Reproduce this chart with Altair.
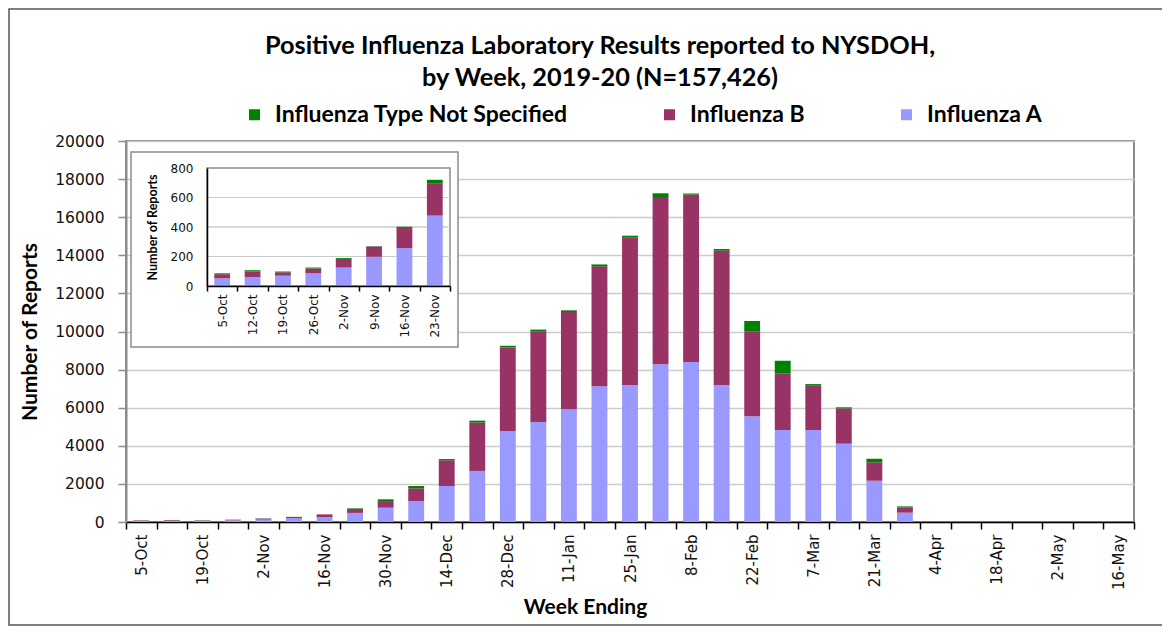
import altair as alt
import pandas as pd

weeks = ["5-Oct", "12-Oct", "19-Oct", "26-Oct", "2-Nov", "9-Nov", "16-Nov", "23-Nov",
         "30-Nov", "7-Dec", "14-Dec", "21-Dec", "28-Dec", "4-Jan", "11-Jan", "18-Jan",
         "25-Jan", "1-Feb", "8-Feb", "15-Feb", "22-Feb", "29-Feb", "7-Mar", "14-Mar",
         "21-Mar", "28-Mar", "4-Apr", "11-Apr", "18-Apr", "25-Apr", "2-May", "9-May", "16-May"]
flu_a = [52, 61, 70, 86, 125, 198, 257, 477, 750, 1100, 1890, 2680, 4780, 5250, 5920, 7120,
         7190, 8280, 8400, 7190, 5550, 4830, 4830, 4110, 2170, 490, 0, 0, 0, 0, 0, 0, 0]
flu_b = [28, 37, 23, 33, 58, 70, 143, 216, 350, 670, 1350, 2540, 4380, 4760, 5100, 6300,
         7740, 8730, 8790, 7050, 4460, 2975, 2350, 1850, 960, 280, 0, 0, 0, 0, 0, 0, 0]
flu_ns = [6, 9, 5, 6, 6, 2, 2, 27, 90, 120, 65, 100, 90, 90, 90, 100,
          100, 245, 60, 90, 540, 665, 60, 60, 190, 50, 0, 0, 0, 0, 0, 0, 0]
inset_weeks = weeks[:8]
shown_labels = weeks[::2]
main_y_ticks = list(range(0, 20001, 2000))
inset_y_ticks = [0, 200, 400, 600, 800]
inset_grid_values = [200, 400, 600]

series_names = ["Influenza Type Not Specified", "Influenza B", "Influenza A"]
series_colors = ["#008000", "#993366", "#9999FF"]
stack_rank = {"Influenza A": 0, "Influenza B": 1, "Influenza Type Not Specified": 2}

rows = []
for i, w in enumerate(weeks):
    for name, vals in (("Influenza A", flu_a), ("Influenza B", flu_b),
                       ("Influenza Type Not Specified", flu_ns)):
        rows.append({"week": w, "idx": i, "series": name, "count": vals[i],
                     "rank": stack_rank[name]})
df = pd.DataFrame(rows)
inset_df = df[df["idx"] < 8]
grid_df = pd.DataFrame([{"week": w, "val": v} for v in inset_grid_values for w in inset_weeks])
one = pd.DataFrame({"k": [0]})

# ---- layout (pixels, relative to the main plot area's top-left corner) ----
W, H = 1008, 381
PAD = {"left": 118, "top": 133, "right": 28, "bottom": 104}
FRAME = (-117, 1080, -132, 484)       # outer chart frame (right edge runs off the page)
BOX = (5, 332, 11, 206)               # inset box
INSET = (81, 324, 27, 145)            # inset plot area

LABEL_FONT = "DejaVu Sans"
TITLE_FONT = "Lato"
GRAY = "#8c8c8c"

label_expr = ("indexof([" + ",".join("'" + w + "'" for w in shown_labels) +
              "], datum.value) >= 0 ? datum.label : ''")

frame = alt.Chart(one).mark_rect(fillOpacity=0, stroke="#555555", strokeWidth=1.5).encode(
    x=alt.value(FRAME[0]), x2=alt.value(FRAME[1]), y=alt.value(FRAME[2]), y2=alt.value(FRAME[3]))

main = alt.Chart(df).mark_bar(width=alt.RelativeBandSize(0.52)).encode(
    x=alt.X("week:N", sort=weeks,
            scale=alt.Scale(paddingInner=0, paddingOuter=0),
            axis=alt.Axis(title="Week Ending", labelExpr=label_expr, labelAngle=270,
                          labelOverlap=False, tickBand="extent", labelFont=LABEL_FONT,
                          labelFontSize=15, labelColor="#111", labelPadding=5,
                          tickColor="black", tickSize=7, tickWidth=1.5,
                          domainColor="black", domainWidth=1.5, grid=False,
                          titleFont=TITLE_FONT, titleFontSize=21, titleFontWeight="bold",
                          titleColor="black", titlePadding=7, titleX=459)),
    y=alt.Y("count:Q", stack="zero", scale=alt.Scale(domain=[0, 20000]),
            axis=alt.Axis(title="Number of Reports", values=main_y_ticks, format="d",
                          labelFont=LABEL_FONT, labelFontSize=15.5, labelColor="#111",
                          labelPadding=14, tickColor=GRAY, tickSize=8, tickWidth=1.5,
                          domainColor=GRAY, domainWidth=2, gridColor="#cccccc",
                          gridWidth=1.5, titleFont=TITLE_FONT, titleFontSize=21,
                          titleFontWeight="bold", titleColor="black", titlePadding=14)),
    color=alt.Color("series:N", title=None,
                    scale=alt.Scale(domain=series_names, range=series_colors),
                    legend=alt.Legend(orient="none", legendX=117, legendY=-38,
                                      direction="horizontal", columns=3,
                                      columnPadding=90, symbolType="square",
                                      symbolSize=121, symbolStrokeWidth=0, labelOffset=9,
                                      labelFont=TITLE_FONT, labelFontSize=23,
                                      labelFontWeight="bold", labelColor="black",
                                      labelLimit=500)),
    order=alt.Order("rank:Q"),
)

box = alt.Chart(one).mark_rect(fill="white", stroke=GRAY, strokeWidth=1.5).encode(
    x=alt.value(BOX[0]), x2=alt.value(BOX[1]), y=alt.value(BOX[2]), y2=alt.value(BOX[3]))

inset_frame = alt.Chart(one).mark_rect(fillOpacity=0, stroke=GRAY, strokeWidth=1.5).encode(
    x=alt.value(INSET[0]), x2=alt.value(INSET[1]), y=alt.value(INSET[2]), y2=alt.value(INSET[3]))

inset_x_scale = alt.Scale(paddingInner=0, paddingOuter=0, range=[INSET[0], INSET[1]])
inset_y_scale = alt.Scale(domain=[0, 800], range=[INSET[3], INSET[2]])
inset_x_axis = alt.Axis(title=None, orient="bottom", offset=INSET[3] - H, zindex=1,
                        labelAngle=270, labelOverlap=False, tickBand="extent",
                        labelFont=LABEL_FONT, labelFontSize=12, labelColor="#111",
                        labelPadding=3, tickColor="black", tickSize=5, tickWidth=1.5,
                        domainColor="black", domainWidth=1.5, grid=False)
inset_y_axis = alt.Axis(title="Number of Reports", orient="left", offset=-INSET[0], zindex=1,
                        values=inset_y_ticks, format="d", labelFont=LABEL_FONT,
                        labelFontSize=12, labelColor="#111", labelPadding=14, ticks=False,
                        domainColor="black", domainWidth=1.5, grid=False,
                        titleFont=TITLE_FONT, titleFontSize=12.5, titleFontWeight="bold",
                        titleColor="black", titlePadding=11)

inset_grid = alt.Chart(grid_df).mark_rect(fillOpacity=0, stroke="#cccccc", strokeWidth=1).encode(
    x=alt.X("week:N", sort=inset_weeks, scale=inset_x_scale, axis=inset_x_axis),
    y=alt.Y("val:Q", scale=inset_y_scale, axis=inset_y_axis),
    y2="val:Q",
)

inset_bars = alt.Chart(inset_df).mark_bar(width=alt.RelativeBandSize(0.52)).encode(
    x=alt.X("week:N", sort=inset_weeks, scale=inset_x_scale, axis=inset_x_axis),
    y=alt.Y("count:Q", stack="zero", scale=inset_y_scale, axis=inset_y_axis),
    color=alt.Color("series:N", scale=alt.Scale(domain=series_names, range=series_colors),
                    legend=None),
    order=alt.Order("rank:Q"),
)

inset_group = alt.layer(inset_grid, inset_bars)

chart = alt.layer(frame, main, box, inset_frame, inset_group).resolve_scale(
    x="independent", y="independent", color="independent"
).resolve_legend(color="independent").properties(
    width=W, height=H,
    autosize=alt.AutoSizeParams(type="none"),
    padding=PAD,
    title=alt.TitleParams(text=["Positive Influenza Laboratory Results reported to NYSDOH,",
                                "by Week, 2019-20 (N=157,426)"],
                          font=TITLE_FONT, fontSize=25.3, fontWeight="bold", color="black",
                          anchor="middle", frame="group", dx=-30, dy=90, lineHeight=32,
                          offset=7),
).configure(background="white").configure_view(stroke=GRAY, strokeWidth=2)

chart.save("out.html", embed_options={"renderer": "svg", "actions": False})
